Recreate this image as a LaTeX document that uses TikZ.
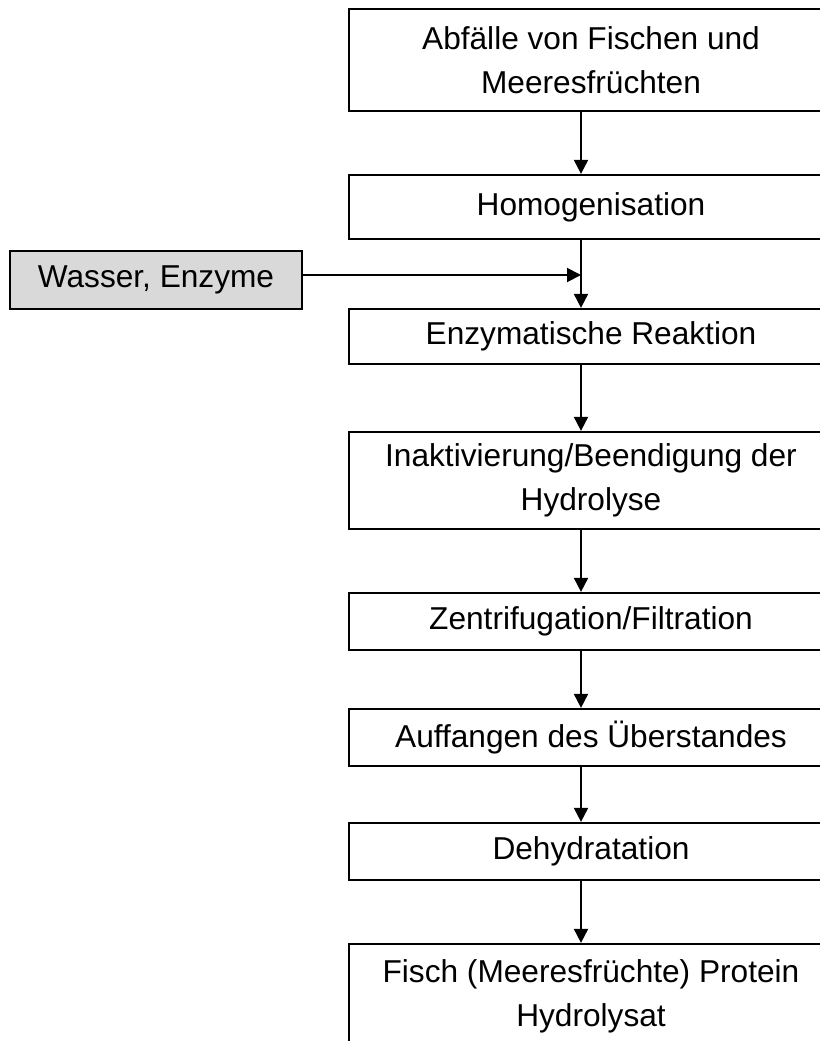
\documentclass[tikz,border=0pt]{standalone}
\usepackage{fontspec}
\setmainfont{Liberation Sans}
\usetikzlibrary{arrows.meta}

\tikzset{
  stage/.style={draw, line width=1.6pt, fill=white, align=center, inner sep=0pt,
    minimum width=12.1cm, font=\fontsize{22.5}{31.3}\selectfont},
  feedbox/.style={stage, fill=black!15, minimum width=7.3cm, minimum height=1.45cm},
  flow/.style={line width=1.4pt, -{Triangle[length=0.35cm,width=0.35cm]}}
}

\begin{document}
\begin{tikzpicture}[x=0.025cm, y=-0.025cm]
{
  \def\colx{581}
  \def\boxx{591}

  \useasboundingbox (0,0) rectangle (820,1041);
  \clip (-5,-5) rectangle (821,1046);

  \coordinate (col) at (\colx,0);

  % process steps, top to bottom
  \node[stage, minimum height=2.55cm] (waste) at (\boxx,60) {Abfälle von Fischen und\\Meeresfrüchten};
  \node[stage, minimum height=1.6cm] (hom) at (\boxx,207) {Homogenisation};
  \node[stage, minimum height=1.375cm] (enz) at (\boxx,336.5) {Enzymatische Reaktion};
  \node[stage, minimum height=2.425cm] (inact) at (\boxx,480.5) {Inaktivierung/Beendigung der\\Hydrolyse};
  \node[stage, minimum height=1.425cm] (centr) at (\boxx,621.5) {Zentrifugation/Filtration};
  \node[stage, minimum height=1.425cm] (super) at (\boxx,737.5) {Auffangen des Überstandes};
  \node[stage, minimum height=1.425cm] (dehyd) at (\boxx,851.5) {Dehydratation};
  \node[stage, minimum height=2.6cm] (prod) at (\boxx,996) {Fisch (Meeresfrüchte) Protein\\Hydrolysat};

  % added water and enzymes
  \node[feedbox] (feed) at (156,280) {Wasser, Enzyme};
  \coordinate (feedout) at ([yshift=0.125cm]feed.east);

  \foreach \a/\b in {waste/hom, hom/enz, enz/inact, inact/centr, centr/super, super/dehyd, dehyd/prod}
    \draw[flow] (\a.south -| col) -- (\b.north -| col);

  \draw[flow] (feedout) -- (feedout -| col);
}
\end{tikzpicture}
\end{document}
